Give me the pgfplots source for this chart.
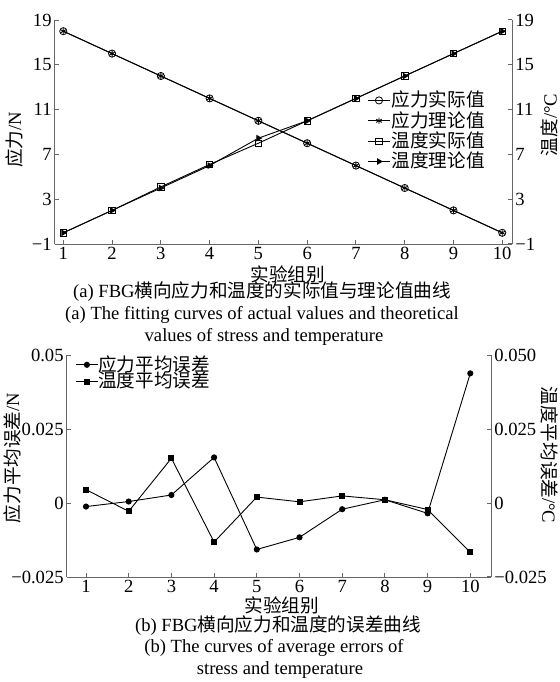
\documentclass[border=0pt]{standalone}
\usepackage{fontspec}
\setmainfont{Liberation Serif}
\newfontfamily\cjk{Noto Sans CJK SC}
\usepackage{pgfplots}
\pgfplotsset{compat=1.18}
\newcommand{\fs}{\fontsize{9.3}{10}\selectfont}

\begin{document}
\begin{tikzpicture}
\pgfplotsset{
  every axis/.append style={
    scale only axis,
    tick align=inside,
    major tick length=2pt,
    axis line style={black!60, line width=0.5pt},
    every tick/.style={black!60, line width=0.5pt},
    tick label style={font=\fs, inner sep=1.5pt},
    scaled y ticks=false,
    clip=false,
  },
}
% ---------- top chart ----------
\begin{axis}[at={(27.5pt,219pt)}, anchor=south west, width=228.5pt, height=112pt,
  xmin=0.83, xmax=10.2, ymin=-1, ymax=19,
  axis x line*=bottom, axis y line*=left,
  xtick={1,2,3,4,5,6,7,8,9,10}, xticklabels={1,2,3,4,5,6,7,8,9,10},
  ytick={-1,3,7,11,15,19}, yticklabels={−1,3,7,11,15,19},
  legend style={draw=none, fill=none, at={(0.683,0.69)}, anchor=north west,
    font=\fs, inner sep=0pt, row sep=-0.4pt, nodes={inner sep=0.6pt}},
  legend cell align=left,
  legend image code/.code={\draw[mark repeat=2,mark phase=2,#1] plot coordinates {(0pt,0pt)(5.5pt,0pt)(11pt,0pt)};},
]
\addplot[black, line width=0.45pt, mark=o, mark size=1.8pt, mark options={solid, line width=0.4pt}]
  coordinates {(1,18)(2,16)(3,14)(4,12)(5,10)(6,8)(7,6)(8,4)(9,2)(10,0)};
\addlegendentry{\cjk 应力实际值}
\addplot[black, line width=0.45pt, mark=asterisk, mark size=1.6pt, mark options={solid, line width=0.45pt}]
  coordinates {(1,18)(2,16)(3,14)(4,12)(5,10)(6,8)(7,6)(8,4)(9,2)(10,0)};
\addlegendentry{\cjk 应力理论值}
\addplot[black, line width=0.45pt, mark=square, mark size=1.6pt, mark options={solid, line width=0.4pt}]
  coordinates {(1,0)(2,2)(3,4.1)(4,6.1)(5,8)(6,10)(7,12)(8,14)(9,16)(10,18)};
\addlegendentry{\cjk 温度实际值}
\addplot[black, line width=0.45pt, mark=triangle*, mark size=1.5pt, mark options={solid, rotate=-90}]
  coordinates {(1,0)(2,2)(3,4)(4,6)(5,8.45)(6,10)(7,12)(8,14)(9,16)(10,18)};
\addlegendentry{\cjk 温度理论值}
\end{axis}
\begin{axis}[at={(27.5pt,219pt)}, anchor=south west, width=228.5pt, height=112pt,
  xmin=0.83, xmax=10.2, ymin=-1, ymax=19,
  axis x line=none, axis y line*=right,
  ytick={-1,3,7,11,15,19}, yticklabels={−1,3,7,11,15,19},
]
\addplot[draw=none] coordinates {(1,0)};
\end{axis}

% ---------- bottom chart ----------
\begin{axis}[at={(33.5pt,52.5pt)}, anchor=south west, width=212pt, height=111pt,
  xmin=0.555, xmax=10.485, ymin=-0.025, ymax=0.05,
  axis x line*=bottom, axis y line*=left,
  xtick={1,2,3,4,5,6,7,8,9,10}, xticklabels={1,2,3,4,5,6,7,8,9,10},
  ytick={-0.025,0,0.025,0.05}, yticklabels={−0.025,0,0.025,0.05},
  legend style={draw=none, fill=none, at={(0.019,1.0)}, anchor=north west,
    font=\fs, inner sep=0pt, row sep=-1pt, nodes={inner sep=0pt}},
  legend cell align=left,
  legend image code/.code={\draw[mark repeat=2,mark phase=2,#1] plot coordinates {(0pt,0pt)(5.5pt,0pt)(11pt,0pt)};},
]
\addplot[black, line width=0.45pt, mark=*, mark size=1.3pt, mark options={solid}]
  coordinates {(1,-0.0012)(2,0.0005)(3,0.0027)(4,0.0154)(5,-0.0157)(6,-0.0116)(7,-0.0021)(8,0.0011)(9,-0.0035)(10,0.0438)};
\addlegendentry{\cjk 应力平均误差}
\addplot[black, line width=0.45pt, mark=square*, mark size=1.25pt, mark options={solid}]
  coordinates {(1,0.0045)(2,-0.0028)(3,0.0151)(4,-0.0132)(5,0.002)(6,0.0004)(7,0.0024)(8,0.0011)(9,-0.0022)(10,-0.0167)};
\addlegendentry{\cjk 温度平均误差}
\end{axis}
\begin{axis}[at={(33.5pt,52.5pt)}, anchor=south west, width=212pt, height=111pt,
  xmin=0.555, xmax=10.485, ymin=-0.025, ymax=0.05,
  axis x line=none, axis y line*=right,
  ytick={-0.025,0,0.025,0.05}, yticklabels={−0.025,0,0.025,0.050},
]
\addplot[draw=none] coordinates {(1,0)};
\end{axis}

% ---------- labels and captions ----------
\begin{scope}[x=0.5pt, y=0.5pt, every node/.style={inner sep=0pt, font=\fs}]
\node at (288,408) {\cjk 实验组别};
\node at (262,390) {(a) FBG{\cjk 横向应力和温度的实际值与理论值曲线}};
\node at (262,367) {(a) The fitting curves of actual values and theoretical};
\node at (264,345) {values of stress and temperature};
\node[rotate=90] at (14,542) {{\cjk 应力}/N};
\node[rotate=90] at (549.5,557) {{\cjk 温度}/°C};

\node at (282,77) {\cjk 实验组别};
\node at (278,56) {(b) FBG{\cjk 横向应力和温度的误差曲线}};
\node at (274,34) {(b) The curves of average errors of};
\node at (280,12) {stress and temperature};
\node[rotate=90] at (12,224) {{\cjk 应力平均误差}/N};
\node[rotate=-90] at (549.5,227) {{\cjk 温度平均误差}/°C};
\end{scope}

\pgfresetboundingbox
\path[use as bounding box] (0,0) rectangle (280pt,341pt);
\end{tikzpicture}
\end{document}
